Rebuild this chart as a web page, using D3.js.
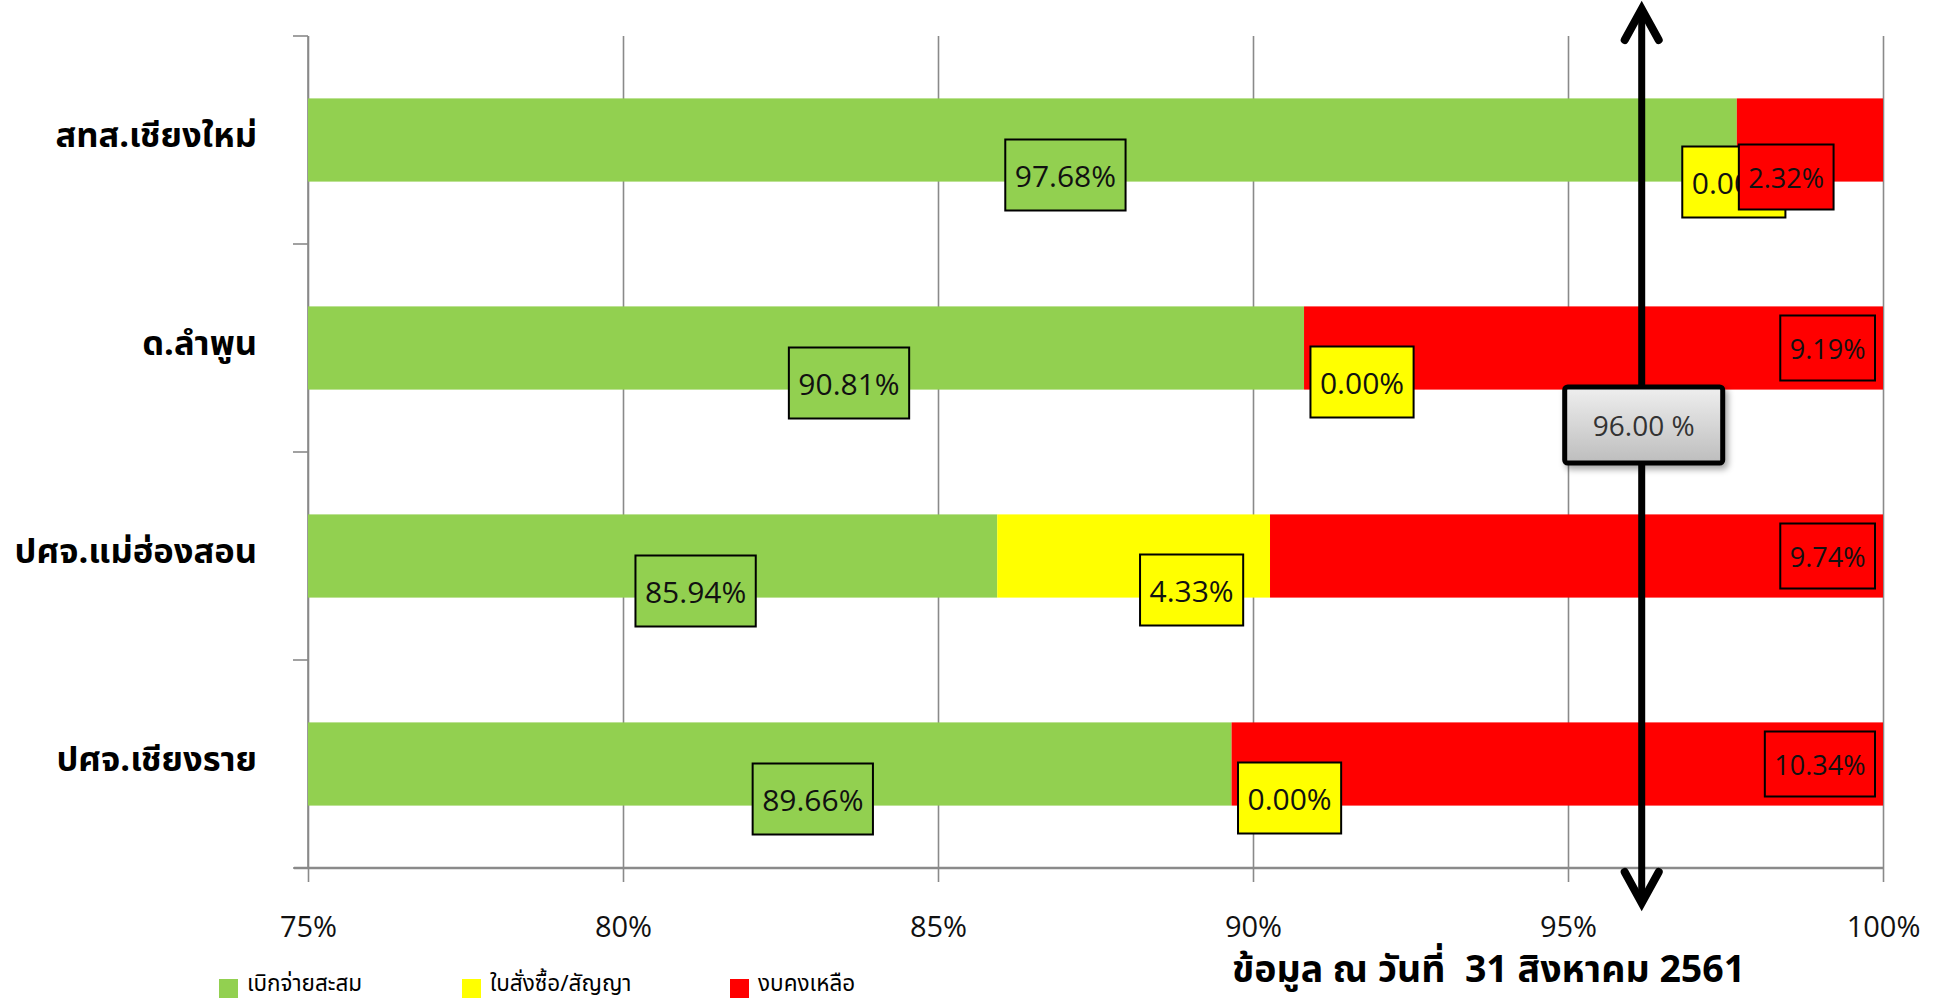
<!DOCTYPE html>
<html>
<head>
<meta charset="utf-8">
<script src="https://cdn.jsdelivr.net/npm/d3@7"></script>
<style>
  html, body { margin: 0; padding: 0; background: #fff; }
  svg { display: block; }
</style>
</head>
<body>
<svg id="chart" width="1946" height="1001"></svg>
<script>
// ---------- data ----------
const categories = ["สทส.เชียงใหม่", "ด.ลำพูน", "ปศจ.แม่ฮ่องสอน", "ปศจ.เชียงราย"];
const disbursed  = [97.68, 90.81, 85.94, 89.66];
const committed  = [0.00, 0.00, 4.33, 0.00];
const remaining  = [2.32, 9.19, 9.74, 10.34];
const seriesNames = ["เบิกจ่ายสะสม", "ใบสั่งซื้อ/สัญญา", "งบคงเหลือ"];
const seriesColors = ["#92D050", "#FFFF00", "#FF0000"];
const xTicks = [75, 80, 85, 90, 95, 100];
const targetValue = 96.00;     // target shown in the box
const markerValue = 96.17;     // where the drawn arrow sits
const dateNote = "ข้อมูล ณ วันที่  31 สิงหาคม 2561";

// ---------- setup ----------
const svg = d3.select("#chart");
const thaiFont = "'Noto Sans Thai', Tahoma, Loma, Garuda, 'DejaVu Sans', sans-serif";
const numFont = "'Open Sans', 'Noto Sans', sans-serif";

const x = d3.scaleLinear().domain([75, 100]).range([308, 1883]);
const y = d3.scaleBand().domain(categories).range([36, 868]).paddingInner(0.6).paddingOuter(0.3);

const table = categories.map((c, i) => ({cat: c, s0: disbursed[i], s1: committed[i], s2: remaining[i]}));
const stack = d3.stack().keys(["s0", "s1", "s2"]);
const layers = stack(table);

const defs = svg.append("defs");
defs.append("clipPath").attr("id", "plotClip").append("rect")
  .attr("x", x(75)).attr("y", 0).attr("width", x(100) - x(75)).attr("height", 1001);
const grad = defs.append("linearGradient").attr("id", "boxGrad").attr("x1", 0).attr("y1", 0).attr("x2", 0).attr("y2", 1);
grad.append("stop").attr("offset", "0%").attr("stop-color", "#efefef");
grad.append("stop").attr("offset", "100%").attr("stop-color", "#bdbdbd");
const shadow = defs.append("filter").attr("id", "shadow").attr("x", "-20%").attr("y", "-20%").attr("width", "150%").attr("height", "150%");
shadow.append("feDropShadow").attr("dx", 3).attr("dy", 4).attr("stdDeviation", 3).attr("flood-color", "#000").attr("flood-opacity", 0.35);

// ---------- gridlines + bottom axis ----------
const gridTop = y.range()[0];
const axisY = y.range()[1];
const xAxis = d3.axisBottom(x).tickValues(xTicks).tickFormat(d => d + "%")
  .tickSizeInner(-(axisY - gridTop)).tickSizeOuter(0);
const gx = svg.append("g").attr("transform", `translate(0,${axisY})`).call(xAxis);
gx.select(".domain").remove();
gx.selectAll(".tick line").attr("y1", 14).attr("y2", -(axisY - gridTop))
  .attr("stroke", "#8a8a8a").attr("stroke-width", 1.6);
gx.selectAll(".tick text").attr("y", 69).attr("dy", 0)
  .attr("font-family", numFont).attr("font-size", 29).attr("fill", "#111");

// bottom axis line
svg.append("line").attr("x1", x(75) - 14).attr("x2", x(100)).attr("y1", axisY).attr("y2", axisY)
  .attr("stroke", "#8a8a8a").attr("stroke-width", 2.4);

// left axis line with band-boundary ticks
const half = (y.step() - y.bandwidth()) / 2;
const boundaries = categories.map(c => y(c) - half).concat([y(categories[categories.length - 1]) + y.bandwidth() + half]);
svg.append("line").attr("x1", x(75)).attr("x2", x(75)).attr("y1", gridTop).attr("y2", axisY)
  .attr("stroke", "#8a8a8a").attr("stroke-width", 1.6);
svg.selectAll(".ytick").data(boundaries).join("line").attr("class", "ytick")
  .attr("x1", x(75) - 15).attr("x2", x(75)).attr("y1", d => d).attr("y2", d => d)
  .attr("stroke", "#8a8a8a").attr("stroke-width", 1.6);

// ---------- bars ----------
const barG = svg.append("g").attr("clip-path", "url(#plotClip)");
layers.forEach((layer, li) => {
  barG.selectAll(".bar" + li).data(layer).join("rect")
    .attr("x", d => x(Math.max(75, d[0])))
    .attr("y", d => y(d.data.cat))
    .attr("width", d => Math.max(0, x(Math.min(100, d[1])) - x(Math.max(75, d[0]))))
    .attr("height", y.bandwidth())
    .attr("fill", seriesColors[li]);
});

// category labels via left axis
const yAxis = d3.axisLeft(y).tickSize(0).tickPadding(51);
const gy = svg.append("g").attr("transform", `translate(${x(75)},0)`).call(yAxis);
gy.select(".domain").remove();
gy.selectAll(".tick text").attr("font-family", thaiFont).attr("font-weight", "bold")
  .attr("font-size", 34.5).attr("fill", "#000").attr("dy", "0.2em");

// ---------- arrow marker ----------
const ax = x(markerValue);
const arrowG = svg.append("g").attr("stroke", "#000").attr("fill", "none")
  .attr("stroke-linecap", "round").attr("stroke-linejoin", "miter");
arrowG.append("line").attr("x1", ax).attr("x2", ax).attr("y1", 12).attr("y2", 900).attr("stroke-width", 7);
arrowG.append("path").attr("d", `M${ax - 17},40 L${ax},9 L${ax + 17},40`).attr("stroke-width", 8);
arrowG.append("path").attr("d", `M${ax - 17},872 L${ax},903 L${ax + 17},872`).attr("stroke-width", 8);

// ---------- data labels ----------
function labelBox(g, cx, cy, text, fill, fontSize, padX, padY) {
  const t = g.append("text").attr("x", cx).attr("y", cy).attr("text-anchor", "middle")
    .attr("dominant-baseline", "central").attr("font-family", numFont)
    .attr("font-size", fontSize).attr("fill", "#111").text(text);
  const w = t.node().getComputedTextLength() + padX * 2;
  const h = fontSize + padY * 2;
  g.insert("rect", "text").attr("x", cx - w / 2).attr("y", cy - h / 2).attr("width", w).attr("height", h)
    .attr("fill", fill).attr("stroke", "#000").attr("stroke-width", 2);
  return w;
}
const fmt = v => v.toFixed(2) + "%";
table.forEach((d, i) => {
  const cy = y(d.cat) + y.bandwidth() / 2;
  const g0 = x(Math.max(75, 0)), g1 = x(d.s0);
  const y0 = g1, y1 = x(d.s0 + d.s1);
  const r0 = y1, r1 = x(Math.min(100, d.s0 + d.s1 + d.s2));
  const redNarrow = (r1 - r0) < 200;
  // green
  svg.append("g").call(g => labelBox(g, (g0 + g1) / 2 + 43, cy + 35, fmt(d.s0), seriesColors[0], 30, 9.5, 20.5));
  // yellow
  svg.append("g").call(g => labelBox(g, (y0 + y1) / 2 + (redNarrow ? -3 : 58), cy + (redNarrow ? 42 : 34), fmt(d.s1), seriesColors[1], 30, 9.5, 20.5));
  // red
  const rg = svg.append("g");
  const tmp = rg.append("text").attr("font-family", numFont).attr("font-size", 27).text(fmt(d.s2));
  const rw = tmp.node().getComputedTextLength() + 19;
  tmp.remove();
  if (redNarrow) {
    labelBox(rg, r0 + 2 + rw / 2, cy + 37, fmt(d.s2), seriesColors[2], 27, 9.5, 19);
  } else {
    labelBox(rg, r1 - 8 - rw / 2, cy, fmt(d.s2), seriesColors[2], 27, 9.5, 19);
  }
});

// ---------- target box ----------
const bw = 158, bh = 76, bcx = ax + 2, bcy = 425;
svg.append("rect").attr("x", bcx - bw / 2).attr("y", bcy - bh / 2).attr("width", bw).attr("height", bh)
  .attr("rx", 3).attr("fill", "url(#boxGrad)").attr("stroke", "#000").attr("stroke-width", 5)
  .attr("filter", "url(#shadow)");
svg.append("text").attr("x", bcx).attr("y", bcy).attr("text-anchor", "middle").attr("dominant-baseline", "central")
  .attr("font-family", numFont).attr("font-size", 28).attr("fill", "#333")
  .text(targetValue.toFixed(2) + " %");

// ---------- legend ----------
const legX = [219, 462, 730];
const leg = svg.append("g");
seriesNames.forEach((n, i) => {
  leg.append("rect").attr("x", legX[i]).attr("y", 979).attr("width", 19).attr("height", 19).attr("fill", seriesColors[i]);
  leg.append("text").attr("x", legX[i] + 28).attr("y", 991).attr("font-family", thaiFont)
    .attr("font-size", 22.5).attr("fill", "#000").text(n);
});

// ---------- date note ----------
svg.append("text").attr("x", 1232).attr("y", 982).attr("font-family", thaiFont)
  .attr("font-weight", "bold").attr("font-size", 37.5).attr("fill", "#000").attr("xml:space", "preserve")
  .style("white-space", "pre").text(dateNote);
</script>
</body>
</html>
